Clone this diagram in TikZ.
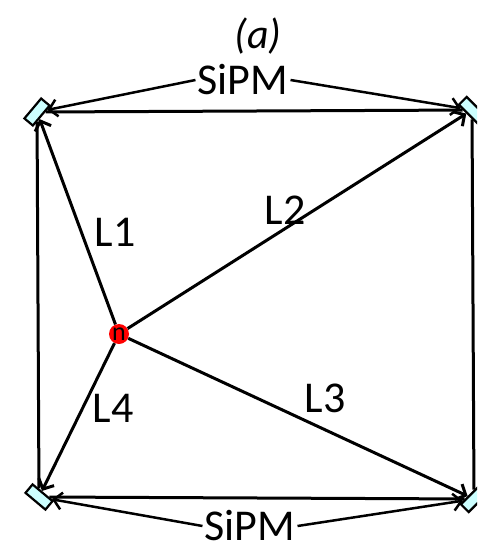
\documentclass[tikz,border=0pt]{standalone}
\usepackage{fontspec}
\setmainfont{Carlito}
\usetikzlibrary{arrows.meta}
\definecolor{sensorfill}{RGB}{204,255,255}
\begin{document}
\begin{tikzpicture}[x=1pt,y=-1pt,
  sipm/.style={draw=black, fill=sensorfill, line width=2.2pt, rectangle,
    minimum width=26pt, minimum height=11pt, inner sep=0pt},
  edge/.style={line width=3pt},
  ray/.style={line width=3pt, -{Straight Barb[length=8pt,width=17pt,line width=3pt]}},
  tag/.style={line width=2.5pt, -{Straight Barb[length=8pt,width=17pt,line width=2.5pt]}},
  lbl/.style={font=\fontsize{44}{50}\selectfont, inner sep=2pt}]
\useasboundingbox (0,0) rectangle (477,551);
\clip (0,0) rectangle (477,551);
% sensors
\node[sipm, rotate=50]  (tl) at (37,112) {};
\node[sipm, rotate=-45] (tr) at (472,110) {};
\node[sipm, rotate=-40] (bl) at (39,497) {};
\node[sipm, rotate=45]  (br) at (474,499) {};
% source
\node[circle, fill=red, minimum size=20pt, inner sep=0pt,
  font=\fontsize{26}{28}\selectfont] (n) at (119,334) {n};
% frame
\draw[edge] (tl) -- (tr);
\draw[edge] (bl) -- (br);
\draw[edge] (tl) -- (bl);
\draw[edge] (tr) -- (br);
% rays
\draw[ray] (n) -- (tl);
\draw[ray] (n) -- (tr);
\draw[ray] (n) -- (br);
\draw[ray] (n) -- (bl);
% labels
\node[lbl] (l1) at (115,232) {L1};
\node[lbl] (l2) at (285,210) {L2};
\node[lbl] (l3) at (325,398) {L3};
\node[lbl] (l4) at (113,408) {L4};
% SiPM tags
\node[lbl] (s1) at (243,80) {SiPM};
\node[lbl] (s2) at (250,526) {SiPM};
\draw[tag] (s1.west) -- (tl);
\draw[tag] (s1.east) -- (tr);
\draw[tag] (s2.west) -- (bl);
\draw[tag] (s2.east) -- (br);
% title
\node[font=\fontsize{42}{48}\selectfont\itshape] (t) at (258,36) {(a)};
\end{tikzpicture}
\end{document}
